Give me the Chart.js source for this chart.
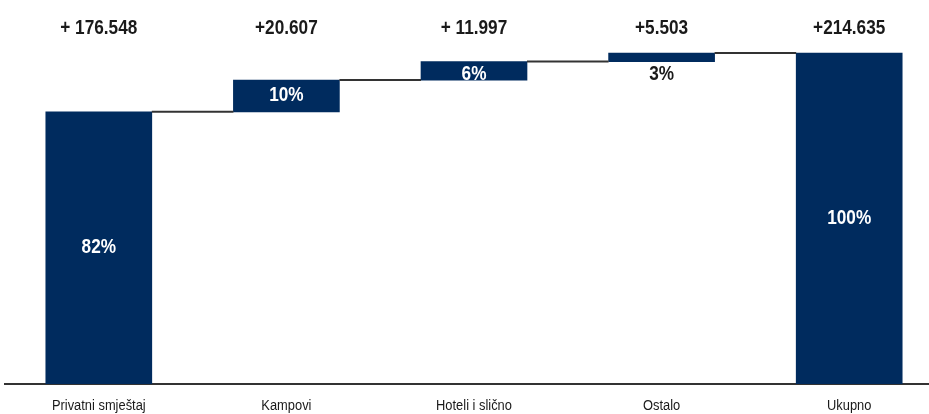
<!DOCTYPE html>
<html>
<head>
<meta charset="utf-8">
<script src="https://cdn.jsdelivr.net/npm/chart.js@4.4.1/dist/chart.umd.min.js"></script>
<style>
  html, body { margin: 0; padding: 0; background: #fff; overflow: hidden; }
  #wrap { width: 943px; height: 414px; }
</style>
</head>
<body>
<div id="wrap"><canvas id="waterfall"></canvas></div>
<script>
const categories = ["Privatni smještaj", "Kampovi", "Hoteli i slično", "Ostalo", "Ukupno"];
const increments = [176.548, 20.607, 11.997, 5.503];
const total = 214.635;
const shares = ["82%", "10%", "6%", "3%", "100%"];
const topLabels = ["+ 176.548", "+20.607", "+ 11.997", "+5.503", "+214.635"];

const navy = "#002b5e";
const fontFamily = "'Liberation Sans', Arial, sans-serif";

// floating bars: [start, end]
const ranges = [];
let running = 0;
increments.forEach(function (v) {
    ranges.push([running, running + v]);
    running += v;
});
ranges.push([0, total]);

// condensed look (the original uses a narrow Gill Sans style face)
function narrowText(ctx, text, x, y, sx) {
    ctx.save();
    ctx.translate(x, y);
    ctx.scale(sx, 1);
    ctx.fillText(text, 0, 0);
    ctx.restore();
}

const waterfallLabels = {
    id: "waterfallLabels",
    afterDatasetsDraw(chart) {
        const ctx = chart.ctx;
        const y = chart.scales.y;
        const bars = chart.getDatasetMeta(0).data;
        ctx.save();

        // connector lines
        ctx.strokeStyle = "#333";
        ctx.lineWidth = 2;
        for (let i = 0; i < bars.length - 1; i++) {
            const level = y.getPixelForValue(ranges[i][1]);
            ctx.beginPath();
            ctx.moveTo(bars[i].x + bars[i].width / 2, level);
            ctx.lineTo(bars[i + 1].x - bars[i + 1].width / 2, level);
            ctx.stroke();
        }

        ctx.textAlign = "center";
        ctx.textBaseline = "middle";
        ctx.font = "bold 20px " + fontFamily;
        bars.forEach(function (bar, i) {
            // top values
            ctx.fillStyle = "#1a1a1a";
            narrowText(ctx, topLabels[i], bar.x, 28, 0.86);

            // shares
            const top = Math.min(bar.y, bar.base);
            const bottom = Math.max(bar.y, bar.base);
            const ly = Math.max((top + bottom) / 2, chart.chartArea.top + 60);
            ctx.fillStyle = ly < bottom ? "#fff" : "#1a1a1a";
            narrowText(ctx, shares[i], bar.x, ly, 0.86);
        });

        // category names under the axis
        ctx.font = "14px " + fontFamily;
        ctx.fillStyle = "#1a1a1a";
        bars.forEach(function (bar, i) {
            narrowText(ctx, categories[i], bar.x, chart.chartArea.bottom + 22, 0.92);
        });
        ctx.restore();
    }
};

new Chart(document.getElementById("waterfall"), {
    type: "bar",
    data: {
        labels: categories,
        datasets: [
            {
                data: ranges,
                backgroundColor: navy,
                borderWidth: 0,
                barThickness: 106,
            },
        ],
    },
    options: {
        responsive: true,
        maintainAspectRatio: false,
        animation: false,
        layout: {
            padding: { top: 14, left: 5, right: 0, bottom: 30 },
        },
        scales: {
            x: {
                grid: { display: false, drawTicks: false },
                border: { display: true, color: "#333", width: 2 },
                ticks: { display: false },
            },
            y: {
                display: false,
                min: 0,
                max: 240,
            },
        },
        plugins: {
            legend: { display: false },
            tooltip: { enabled: false },
        },
    },
    plugins: [waterfallLabels],
});
</script>
</body>
</html>
